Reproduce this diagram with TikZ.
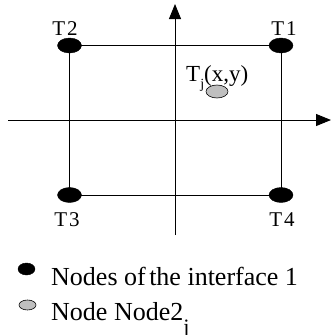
\documentclass[tikz,border=0pt]{standalone}
\usepackage{fontspec}
\setmainfont{Liberation Serif}
\usetikzlibrary{arrows.meta,shapes.geometric}
\begin{document}
\begin{tikzpicture}[x=1pt,y=-1pt,
  axis/.style={line width=0.9pt,-{Triangle[length=15pt,width=12pt]}},
  edge/.style={line width=0.8pt},
  bigdot/.style={ellipse,fill=black,draw=black,inner sep=0pt,minimum width=24pt,minimum height=15pt},
  greydot/.style={ellipse,fill=black!25,draw=black,line width=0.6pt,inner sep=0pt,minimum width=22pt,minimum height=13pt},
  lab/.style={font=\fontsize{21}{21}\selectfont,inner sep=0pt},
  leg/.style={font=\fontsize{26}{26}\selectfont,inner sep=0pt,anchor=base west}]
\useasboundingbox[fill=white] (0,0) rectangle (331,335);
% axes
\coordinate (xl) at (8,120);
\coordinate (xr) at (331,120);
\coordinate (yb) at (175,235);
\coordinate (yt) at (175,4);
\draw[axis] (xl) -- (xr);
\draw[axis] (yb) -- (yt);
% rectangle corners
\coordinate (c1) at (281,45.5);
\coordinate (c2) at (69.5,45.5);
\coordinate (c3) at (69.5,195);
\coordinate (c4) at (281,195);
\draw[edge] (c2) -- (c1) -- (c4) -- (c3) -- cycle;
\node[bigdot] (t1) at (c1) {};
\node[bigdot] (t2) at (c2) {};
\node[bigdot] (t3) at (c3) {};
\node[bigdot] (t4) at (c4) {};
\node[lab] (l2) at (65,29) {T\kern2pt 2};
\node[lab] (l1) at (284,29) {T\kern2pt 1};
\node[lab] (l3) at (67,220) {T\kern2pt 3};
\node[lab] (l4) at (282,220) {T\kern2pt 4};
% T_j
\node[lab,font=\fontsize{23}{23}\selectfont,anchor=base west] (tj) at (186,81) {T\raisebox{-7pt}{\fontsize{14}{14}\selectfont j}(x,y)};
\node[greydot] (gj) at (217,91.5) {};
% legend
\node[bigdot,minimum width=17pt,minimum height=12pt] (lb) at (26.5,269) {};
\node[greydot,minimum width=17pt,minimum height=10pt] (lg) at (27.5,305) {};
\node[leg] (lt1) at (51,285) {Nodes of\kern-3pt\ the interface 1};
\node[leg] (lt2) at (51,320) {Node Node2\raisebox{-14pt}{\fontsize{22}{22}\selectfont j}};
\end{tikzpicture}
\end{document}
